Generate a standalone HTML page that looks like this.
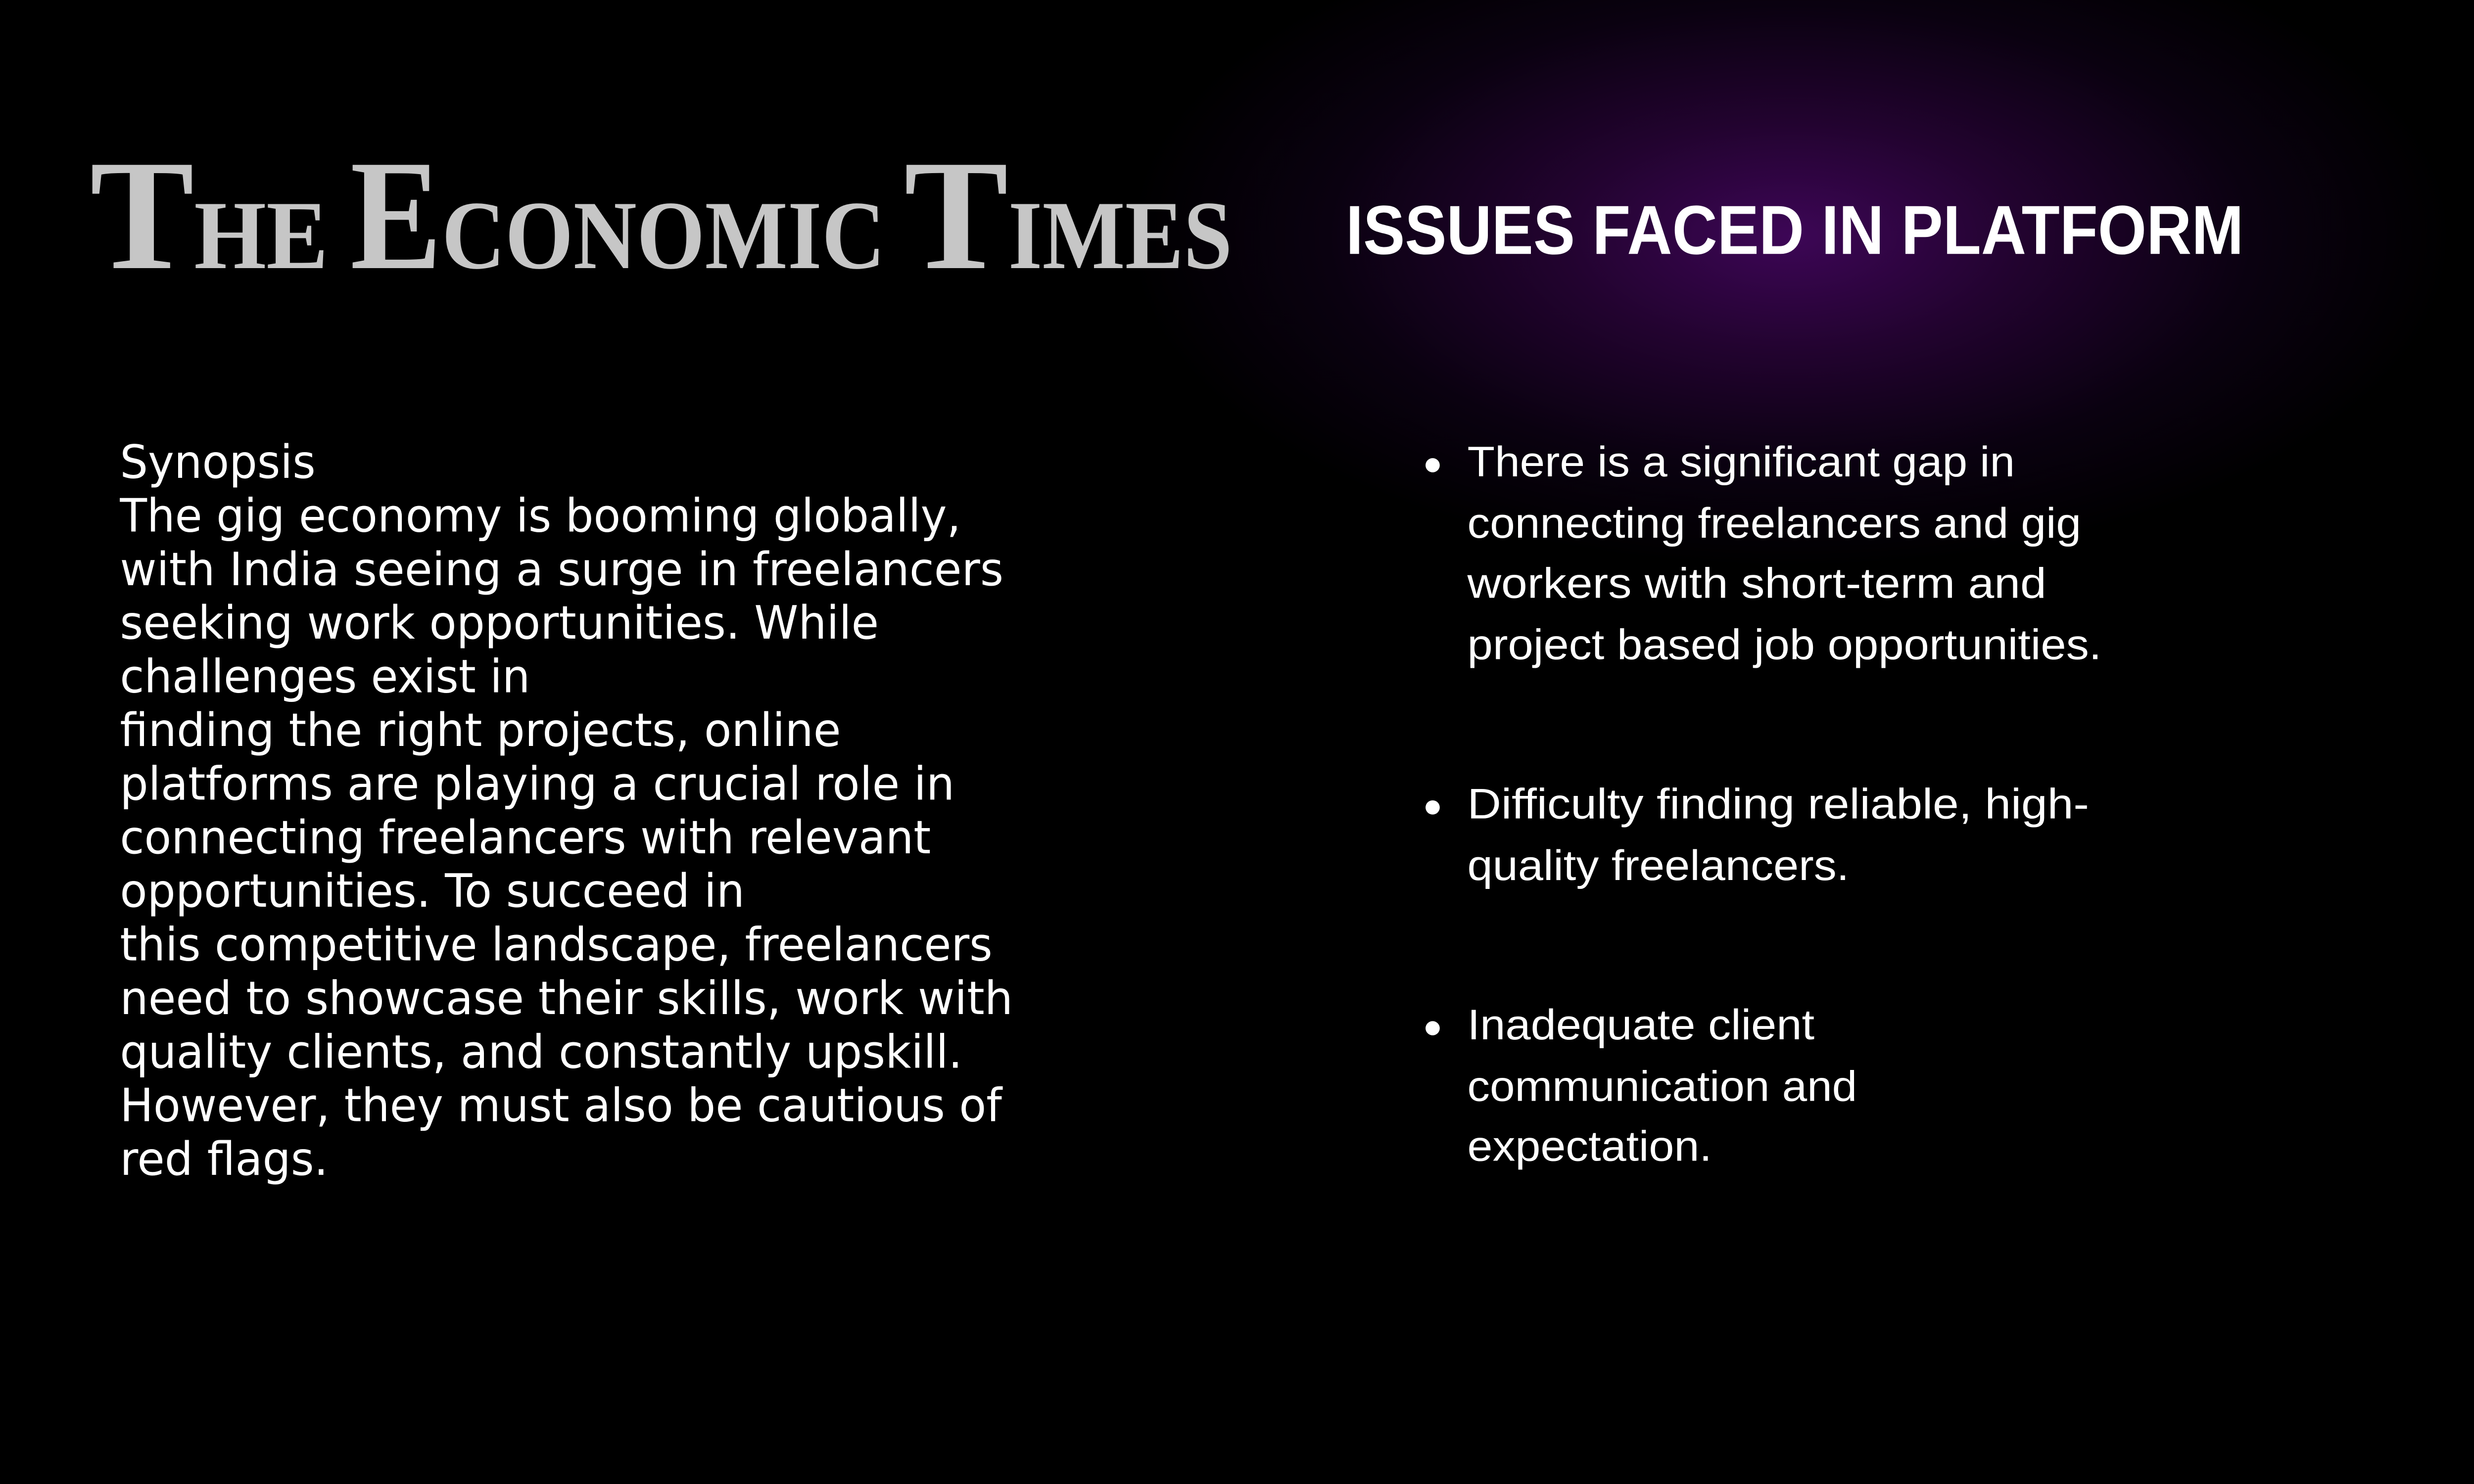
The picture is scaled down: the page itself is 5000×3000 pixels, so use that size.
<!DOCTYPE html>
<html><head><meta charset="utf-8"><style>
html,body{margin:0;padding:0;background:#000;width:5000px;height:3000px;overflow:hidden}
svg{display:block}
</style></head><body>
<svg width="5000" height="3000" viewBox="0 0 1568 941" preserveAspectRatio="none" xmlns="http://www.w3.org/2000/svg">
<defs>
<radialGradient id="glow" cx="1135" cy="150" r="420" gradientUnits="userSpaceOnUse" gradientTransform="translate(1135 150) scale(1 0.5) translate(-1135 -150)">
<stop offset="0" stop-color="#3d0656"/>
<stop offset="0.35" stop-color="#22032f"/>
<stop offset="0.7" stop-color="#0a0110"/>
<stop offset="1" stop-color="#000"/>
</radialGradient>
</defs>
<rect x="0" y="0" width="1568" height="941" fill="#000"/>
<rect x="600" y="0" width="968" height="400" fill="url(#glow)"/>

<g fill="#c6c6c6" font-family="'Liberation Serif', serif" font-weight="bold">
<text x="57" y="170" font-size="100" textLength="66" lengthAdjust="spacingAndGlyphs">T</text>
<text x="123" y="170" font-size="62" textLength="85" lengthAdjust="spacingAndGlyphs">HE</text>
<text x="222" y="170" font-size="100" textLength="58" lengthAdjust="spacingAndGlyphs">E</text>
<text x="280" y="170" font-size="62" textLength="281" lengthAdjust="spacingAndGlyphs">CONOMIC</text>
<text x="573" y="170" font-size="100" textLength="66" lengthAdjust="spacingAndGlyphs">T</text>
<text x="639" y="170" font-size="62" textLength="142" lengthAdjust="spacingAndGlyphs">IMES</text>
</g>

<text x="853" y="161" fill="#fff" font-family="'Liberation Sans', sans-serif" font-weight="bold" font-size="44" textLength="569" lengthAdjust="spacingAndGlyphs">ISSUES FACED IN PLATFORM</text>

<g fill="#fff" font-family="'DejaVu Sans', sans-serif" font-size="29">
<text x="76" y="303" textLength="124" lengthAdjust="spacingAndGlyphs">Synopsis</text>
<text x="76" y="337" textLength="533" lengthAdjust="spacingAndGlyphs">The gig economy is booming globally,</text>
<text x="76" y="371" textLength="560" lengthAdjust="spacingAndGlyphs">with India seeing a surge in freelancers</text>
<text x="76" y="405" textLength="481" lengthAdjust="spacingAndGlyphs">seeking work opportunities. While</text>
<text x="76" y="439" textLength="260" lengthAdjust="spacingAndGlyphs">challenges exist in</text>
<text x="76" y="473" textLength="457" lengthAdjust="spacingAndGlyphs">finding the right projects, online</text>
<text x="76" y="507" textLength="529" lengthAdjust="spacingAndGlyphs">platforms are playing a crucial role in</text>
<text x="76" y="541" textLength="514" lengthAdjust="spacingAndGlyphs">connecting freelancers with relevant</text>
<text x="76" y="575" textLength="396" lengthAdjust="spacingAndGlyphs">opportunities. To succeed in</text>
<text x="76" y="609" textLength="553" lengthAdjust="spacingAndGlyphs">this competitive landscape, freelancers</text>
<text x="76" y="643" textLength="566" lengthAdjust="spacingAndGlyphs">need to showcase their skills, work with</text>
<text x="76" y="677" textLength="534" lengthAdjust="spacingAndGlyphs">quality clients, and constantly upskill.</text>
<text x="76" y="711" textLength="559" lengthAdjust="spacingAndGlyphs">However, they must also be cautious of</text>
<text x="76" y="745" textLength="132" lengthAdjust="spacingAndGlyphs">red flags.</text>
</g>

<g fill="#fff" font-family="'Liberation Sans', sans-serif" font-size="27">
<g>
<circle cx="908" cy="295" r="4.5"/>
<text x="930" y="302" textLength="347" lengthAdjust="spacingAndGlyphs">There is a significant gap in</text>
<text x="930" y="341" textLength="389" lengthAdjust="spacingAndGlyphs">connecting freelancers and gig</text>
<text x="930" y="379" textLength="367" lengthAdjust="spacingAndGlyphs">workers with short-term and</text>
<text x="930" y="418" textLength="402" lengthAdjust="spacingAndGlyphs">project based job opportunities.</text>
</g>
<g>
<circle cx="908" cy="512" r="4.5"/>
<text x="930" y="519" textLength="394" lengthAdjust="spacingAndGlyphs">Difficulty finding reliable, high-</text>
<text x="930" y="558" textLength="242" lengthAdjust="spacingAndGlyphs">quality freelancers.</text>
</g>
<g>
<circle cx="908" cy="652" r="4.5"/>
<text x="930" y="659" textLength="220" lengthAdjust="spacingAndGlyphs">Inadequate client</text>
<text x="930" y="698" textLength="247" lengthAdjust="spacingAndGlyphs">communication and</text>
<text x="930" y="736" textLength="155" lengthAdjust="spacingAndGlyphs">expectation.</text>
</g>
</g>
</svg>
</body></html>
